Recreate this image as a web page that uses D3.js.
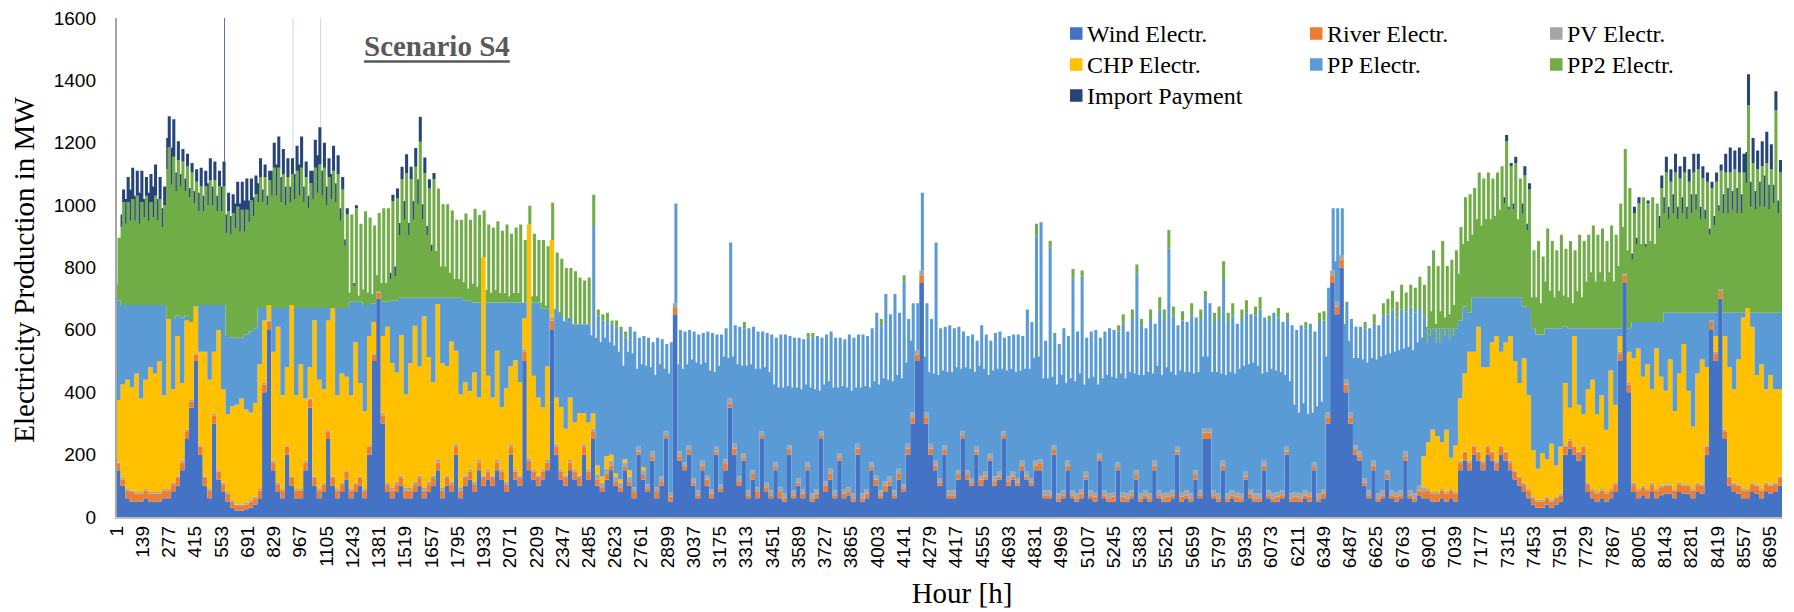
<!DOCTYPE html>
<html>
<head>
<meta charset="utf-8">
<script src="https://cdn.jsdelivr.net/npm/d3@7"></script>
<style>
  body { margin: 0; background: #fff; }
  svg { display: block; }
</style>
</head>
<body>
<svg id="chart" width="1794" height="612"></svg>
<script>
// Electricity production over one year, scenario S4 (MW).
// One value per day; PP and PP2 are split into a night block (0-8 h) and a day block (8-24 h).

const windMW = [
  150,100,60,50,50,50,60,50,50,50,
  60,60,80,100,150,250,350,500,200,100,
  60,300,120,80,50,30,20,20,25,30,
  40,60,400,600,150,80,60,200,100,60,
  60,150,350,100,60,80,250,100,60,80,
  120,60,80,100,60,200,500,700,300,80,
  60,80,100,60,60,80,100,60,80,100,
  150,60,100,80,200,60,100,120,80,150,
  100,120,100,150,120,80,200,120,100,500,
  150,120,100,120,150,600,200,120,100,150,
  120,100,200,120,250,100,80,120,150,100,
  80,150,100,60,200,120,80,180,60,100,
  250,50,650,180,150,200,100,60,150,100,
  60,200,80,150,350,200,100,180,60,120,
  60,250,80,60,150,60,50,200,60,100,
  60,150,50,60,250,80,120,60,180,60,
  70,50,200,50,60,150,100,60,80,100,
  60,120,80,200,300,500,750,300,200,150,
  100,200,60,60,120,250,120,100,200,100,
  120,180,100,120,250,100,120,100,150,120,
  100,150,150,60,60,200,50,60,150,60,
  50,60,120,60,50,180,60,50,50,150,
  50,50,60,120,50,60,50,150,60,50,
  50,60,200,50,60,50,120,60,250,250,
  60,50,150,50,60,50,50,120,60,50,
  50,150,60,50,50,60,200,50,50,50,
  60,50,150,50,60,300,750,650,800,400,
  300,200,180,100,60,150,50,60,120,60,
  50,60,180,60,50,70,60,60,50,50,
  60,50,60,50,150,180,150,200,180,150,
  200,180,150,200,180,150,120,100,80,60,
  40,30,30,40,30,40,50,200,220,200,
  180,200,80,60,50,60,50,60,80,500,
  750,400,80,60,70,60,80,60,70,75,
  75,60,80,75,75,60,80,75,200,600,
  500,700,250,100,80,75,60,60,80,75,
  60,80,75,80,100
];

const riverMW = [
  20,20,25,30,25,25,25,25,25,25,
  25,25,25,25,25,25,20,20,25,25,
  25,25,25,25,25,20,15,15,15,20,
  20,25,25,25,25,25,25,25,25,25,
  25,25,25,25,25,25,25,25,25,25,
  25,25,25,25,25,25,20,20,25,25,
  25,25,25,25,25,25,25,25,25,25,
  25,25,25,25,25,25,25,25,25,25,
  25,25,25,25,25,25,25,25,25,30,
  30,25,25,25,25,30,25,25,25,25,
  25,25,25,25,25,20,15,20,15,15,
  15,10,15,20,10,15,10,15,20,15,
  10,15,20,15,10,15,10,10,15,20,
  15,10,10,20,15,20,15,10,10,15,
  20,10,15,10,10,20,10,15,10,10,
  15,10,10,15,10,20,20,10,10,15,
  10,10,20,10,15,10,20,10,20,15,
  10,20,10,20,20,20,25,20,20,15,
  10,15,10,10,15,10,15,10,10,20,
  10,10,15,10,10,15,10,10,15,10,
  10,15,20,10,10,15,10,10,15,10,
  10,15,10,10,15,10,10,10,15,10,
  15,10,10,15,10,10,10,15,10,10,
  15,10,10,15,10,10,15,10,20,20,
  10,10,15,10,10,15,10,10,15,10,
  10,15,10,10,15,10,10,10,15,10,
  10,15,10,10,15,20,25,25,25,25,
  20,15,15,10,10,15,10,10,15,10,
  15,10,15,10,10,15,20,25,25,25,
  25,25,25,25,25,25,25,25,25,25,
  25,25,25,25,25,25,25,25,25,25,
  20,20,20,20,20,20,20,25,25,25,
  25,25,25,25,25,25,25,25,25,25,
  25,25,25,25,25,25,25,25,25,25,
  25,25,25,25,25,25,25,25,25,25,
  25,25,25,25,25,25,25,25,25,25,
  25,25,25,25,25
];

const pvMW = [
  5,5,5,5,5,5,5,5,5,5,
  5,5,5,5,5,5,5,5,5,5,
  5,5,5,5,5,5,5,5,5,5,
  5,5,5,5,5,5,5,5,5,5,
  5,5,5,5,5,5,5,5,5,5,
  5,5,5,5,5,5,5,5,5,5,
  8,8,8,8,8,8,8,8,8,8,
  8,8,8,8,8,8,8,8,8,8,
  8,8,8,8,8,8,8,8,8,8,
  8,8,8,8,8,8,8,8,8,8,
  8,8,8,8,8,15,15,15,15,15,
  15,15,15,15,15,15,15,15,15,15,
  15,15,15,15,15,15,15,15,15,15,
  15,15,15,15,15,15,15,15,15,15,
  15,15,15,15,15,15,15,15,15,15,
  15,15,15,15,15,15,15,15,15,15,
  15,15,15,15,15,15,15,15,15,15,
  15,15,15,15,15,15,15,15,15,15,
  15,15,15,15,15,15,15,15,15,15,
  15,15,15,15,15,15,15,15,15,15,
  15,15,15,15,15,15,15,15,15,15,
  15,15,15,15,15,15,15,15,15,15,
  15,15,15,15,15,15,15,15,15,15,
  15,15,15,15,15,15,15,15,15,15,
  15,15,15,15,15,15,15,15,15,15,
  15,15,15,15,15,15,15,15,15,15,
  15,15,15,15,15,15,15,15,15,15,
  15,15,15,15,15,15,15,15,15,15,
  15,15,15,15,15,15,15,5,5,5,
  5,5,5,5,5,5,5,5,5,5,
  5,5,5,5,5,5,5,5,5,5,
  5,5,5,5,5,5,5,5,5,5,
  5,5,5,5,5,5,5,5,5,5,
  5,5,5,5,5,5,5,5,5,5,
  5,5,5,5,5,5,5,5,5,5,
  5,5,5,5,5,5,5,5,5,5,
  5,5,5,5,5
];

const chpMW = [
  200,300,350,330,380,300,350,400,380,420,
  300,545,300,450,250,350,250,150,300,400,
  350,200,450,300,250,300,320,340,300,280,
  300,400,200,50,350,500,300,250,550,300,
  400,200,100,500,350,300,350,540,300,350,
  300,300,450,300,250,350,100,0,250,500,
  400,350,450,300,400,500,350,550,400,300,
  500,400,350,450,300,300,300,250,350,200,
  700,300,250,350,200,300,250,350,300,100,
  750,300,250,200,300,250,150,200,150,200,
  150,200,100,150,50,30,20,40,20,10,
  10,10,20,0,0,10,0,0,0,0,
  0,0,0,0,0,0,0,0,0,0,
  0,0,0,0,0,0,0,0,0,0,
  0,0,0,0,0,0,0,0,0,0,
  0,0,0,0,0,0,0,0,0,0,
  0,0,0,0,0,0,0,0,0,0,
  0,0,0,0,0,0,0,0,0,0,
  0,0,0,0,0,0,0,0,0,0,
  0,0,0,0,0,0,0,0,0,0,
  0,0,0,0,0,0,0,0,0,0,
  0,0,0,0,0,0,0,0,0,0,
  0,0,0,0,0,0,0,0,0,0,
  0,0,0,0,0,0,0,0,0,0,
  0,0,0,0,0,0,0,0,0,0,
  0,0,0,0,0,0,0,0,0,0,
  0,0,0,0,0,0,0,0,0,0,
  0,0,0,0,0,0,0,0,0,0,
  0,0,0,0,0,0,100,150,200,180,
  150,200,100,150,200,250,350,300,400,300,
  250,350,400,300,350,400,350,300,400,300,
  150,100,150,120,180,100,150,200,100,350,
  150,100,300,350,250,300,200,380,250,50,
  0,100,400,450,350,400,300,450,350,300,
  400,250,350,450,300,200,350,400,250,0,
  50,0,300,350,300,400,550,580,500,350,
  400,300,350,300,280
];

const ppDayMW = [
  320,255,240,265,220,300,240,200,220,180,
  290,0,225,65,210,15,0,0,150,150,
  240,150,80,270,250,220,215,195,240,260,
  240,180,40,0,140,60,280,190,0,280,
  180,290,190,40,230,260,40,0,280,210,
  220,300,130,260,340,100,60,0,110,80,
  200,230,120,310,210,90,220,60,190,270,
  20,210,220,140,170,310,260,290,225,305,
  0,235,305,155,335,275,205,185,255,50,
  0,235,305,315,185,0,285,295,345,255,
  315,285,285,315,600,480,500,430,420,470,
  480,390,460,500,350,420,470,350,480,440,
  280,480,320,390,420,370,470,500,410,460,
  500,360,480,420,500,380,480,400,520,460,
  500,320,480,500,400,490,510,350,490,450,
  480,400,500,490,300,470,440,490,370,480,
  490,500,350,510,490,430,520,530,600,520,
  630,500,650,400,350,150,250,350,400,700,
  480,380,530,520,460,320,430,460,340,480,
  440,360,460,450,300,450,440,460,400,520,
  500,720,760,480,780,360,480,520,400,680,
  520,680,430,510,520,370,510,530,520,420,
  540,520,550,630,540,520,560,440,580,560,
  780,560,390,550,540,570,490,550,420,400,
  540,560,580,550,560,540,560,510,560,570,
  590,460,540,580,560,540,410,540,520,540,
  520,540,420,550,540,400,200,300,150,250,
  300,380,400,480,520,440,540,560,500,580,
  560,580,450,590,580,570,450,365,325,345,
  365,325,415,375,250,215,125,175,95,225,
  225,145,125,175,145,125,205,275,165,280,
  390,430,380,420,370,440,380,180,255,25,
  245,275,195,165,275,215,325,135,245,25,
  0,75,115,85,175,135,215,85,175,250,
  150,315,195,100,250,365,195,150,175,25,
  75,0,75,175,245,150,15,0,45,200,
  165,245,200,245,245
];

const ppNightMW = [
  320,255,240,265,220,300,240,200,220,180,
  290,0,225,65,210,15,0,0,150,150,
  240,150,80,270,250,220,215,195,240,260,
  240,180,40,0,140,60,280,190,0,280,
  180,290,190,40,230,260,40,0,280,210,
  220,300,130,260,340,100,60,0,110,80,
  200,230,120,310,210,90,220,60,190,270,
  20,210,220,140,170,310,260,290,225,305,
  0,235,305,155,335,275,205,185,255,50,
  0,235,305,315,185,0,285,295,345,255,
  315,285,285,315,250,410,430,380,360,410,
  410,300,380,430,250,330,380,270,360,360,
  200,380,0,280,300,260,380,410,310,360,
  380,240,380,330,130,280,360,280,400,340,
  380,200,370,380,250,320,340,190,330,290,
  320,250,340,320,130,310,280,330,210,330,
  320,330,180,340,330,240,300,340,330,310,
  350,300,340,260,230,0,0,180,230,280,
  330,240,380,380,330,200,330,350,240,350,
  330,250,340,330,200,340,330,340,290,330,
  350,330,330,360,360,220,350,370,250,360,
  360,370,280,360,370,220,360,380,370,270,
  380,370,380,310,380,370,390,280,400,380,
  400,380,230,390,380,390,310,380,230,230,
  380,390,280,380,380,380,400,340,400,420,
  410,280,380,400,390,380,230,360,280,260,
  280,250,160,280,280,180,0,130,0,180,
  230,280,300,380,410,330,430,430,370,440,
  450,450,330,460,460,460,380,320,300,300,
  320,300,380,350,250,215,125,175,95,225,
  225,145,125,175,145,125,205,275,165,280,
  390,430,380,420,370,440,380,180,255,25,
  245,275,195,165,275,215,325,135,245,25,
  0,75,115,85,175,135,215,85,175,250,
  150,315,195,100,250,365,195,150,175,25,
  75,0,75,175,245,150,15,0,45,200,
  165,245,200,245,245
];

const pp2DayMW = [
  200,330,330,340,350,330,350,330,350,340,
  320,550,520,500,500,480,480,400,380,380,
  400,400,380,380,400,400,420,410,400,420,
  430,420,420,400,450,450,430,420,420,440,
  450,420,400,450,460,450,420,440,430,380,
  300,280,300,250,300,280,250,250,300,300,
  320,330,380,400,380,420,500,400,350,380,
  350,300,300,280,250,250,280,260,300,280,
  150,250,240,260,230,250,220,240,250,200,
  60,220,200,220,200,120,180,180,170,160,
  170,150,140,150,100,20,20,30,10,20,
  10,20,0,0,0,0,0,0,0,0,
  0,0,0,0,0,0,0,0,0,0,
  0,0,0,0,0,0,0,20,0,0,
  0,0,0,0,0,0,0,0,0,0,
  0,15,15,0,0,0,0,0,0,0,
  0,0,0,0,0,0,0,20,0,0,
  0,0,20,0,0,0,0,0,0,0,
  0,0,0,0,0,0,0,0,0,0,
  0,0,0,0,0,0,0,0,0,0,
  0,40,0,0,20,0,0,0,0,30,
  0,20,0,0,0,0,0,0,0,20,
  30,0,30,30,20,0,30,0,40,30,
  60,30,0,30,0,40,0,30,20,0,
  30,40,60,30,40,0,30,40,0,30,
  40,0,20,0,30,0,20,0,0,0,
  20,0,0,30,30,0,0,0,0,0,
  0,0,0,20,0,30,0,40,50,60,
  50,80,60,70,80,100,100,200,250,200,
  280,200,220,250,300,350,380,350,400,380,
  400,380,400,420,500,420,430,380,420,380,
  250,300,250,320,280,250,300,250,280,250,
  300,280,300,330,300,320,280,330,300,400,
  400,450,350,380,400,380,400,380,430,450,
  420,450,430,450,420,450,460,430,420,400,
  420,380,450,450,460,450,450,650,480,460,
  470,480,460,650,450
];

const pp2NightMW = [
  50,250,260,270,270,260,280,270,280,270,
  250,480,430,400,420,400,400,330,300,300,
  320,320,300,300,330,330,350,340,330,350,
  360,340,340,320,360,360,340,330,330,350,
  360,340,320,350,370,360,330,350,340,280,
  200,30,50,20,50,40,30,50,60,60,
  70,80,200,250,200,250,300,250,200,150,
  150,100,100,80,60,60,60,40,60,50,
  0,40,30,40,30,30,20,30,30,0,
  0,20,20,20,10,0,0,10,0,0,
  0,0,0,0,0,0,0,0,0,0,
  0,0,0,0,0,0,0,0,0,0,
  0,0,0,0,0,0,0,0,0,0,
  0,0,0,0,0,0,0,0,0,0,
  0,0,0,0,0,0,0,0,0,0,
  0,0,0,0,0,0,0,0,0,0,
  0,0,0,0,0,0,0,0,0,0,
  0,0,0,0,0,0,0,0,0,0,
  0,0,0,0,0,0,0,0,0,0,
  0,0,0,0,0,0,0,0,0,0,
  0,0,0,0,0,0,0,0,0,0,
  0,0,0,0,0,0,0,0,0,0,
  0,0,0,0,0,0,0,0,0,0,
  0,0,0,0,0,0,0,0,0,0,
  0,0,0,0,0,0,0,0,0,0,
  0,0,0,0,0,0,0,0,0,0,
  0,0,0,0,0,0,0,0,0,0,
  0,0,0,0,0,0,0,0,0,0,
  0,0,0,0,0,0,0,50,80,60,
  100,60,80,100,150,200,230,200,250,230,
  250,250,260,280,300,280,280,250,300,250,
  100,120,100,150,120,100,120,100,100,80,
  120,100,150,180,150,180,150,180,150,200,
  150,250,200,250,250,240,260,250,300,320,
  300,320,300,320,300,320,330,300,300,250,
  280,250,320,320,330,320,320,400,340,330,
  340,340,330,350,320
];

const importMW = [
  0,40,80,100,80,100,60,90,100,70,
  60,100,120,60,40,40,30,40,60,50,
  70,60,50,80,60,60,80,90,100,70,
  60,60,40,30,80,100,80,60,50,80,
  100,50,40,90,120,80,60,80,60,40,
  20,0,10,0,0,0,0,0,0,0,
  20,30,40,60,40,60,80,50,30,20,
  0,0,0,0,0,0,0,0,0,0,
  0,0,0,0,0,0,0,0,0,0,
  0,0,0,0,0,0,0,0,0,0,
  0,0,0,0,0,0,0,0,0,0,
  0,0,0,0,0,0,0,0,0,0,
  0,0,0,0,0,0,0,0,0,0,
  0,0,0,0,0,0,0,0,0,0,
  0,0,0,0,0,0,0,0,0,0,
  0,0,0,0,0,0,0,0,0,0,
  0,0,0,0,0,0,0,0,0,0,
  0,0,0,0,0,0,0,0,0,0,
  0,0,0,0,0,0,0,0,0,0,
  0,0,0,0,0,0,0,0,0,0,
  0,0,0,0,0,0,0,0,0,0,
  0,0,0,0,0,0,0,0,0,0,
  0,0,0,0,0,0,0,0,0,0,
  0,0,0,0,0,0,0,0,0,0,
  0,0,0,0,0,0,0,0,0,0,
  0,0,0,0,0,0,0,0,0,0,
  0,0,0,0,0,0,0,0,0,0,
  0,0,0,0,0,0,0,0,0,0,
  0,0,0,0,0,0,0,0,0,0,
  0,0,0,0,0,0,0,0,0,0,
  0,0,0,0,20,10,20,0,30,20,
  0,0,0,0,0,0,0,0,0,0,
  0,0,0,0,0,0,0,0,0,0,
  0,0,20,20,0,10,0,0,40,50,
  40,60,40,50,40,60,50,40,30,20,
  30,20,60,80,60,80,60,100,80,60,
  80,100,80,60,40
];

// Single-hour peaks that rise above the daily blocks.
const peakHours  = [569, 929, 1074];
const peakSeries = ["imp", "pp", "pp"];
const peakTopMW  = [1700, 1700, 1700];

const seriesKeys   = ["wind", "river", "pv", "chp", "pp", "pp2", "imp"];
const seriesNames  = ["Wind Electr.", "River Electr.", "PV Electr.", "CHP Electr.", "PP Electr.", "PP2 Electr.", "Import Payment"];
const seriesColors = ["#4472C4", "#ED7D31", "#A5A5A5", "#FFC000", "#5B9BD5", "#70AD47", "#264478"];

const yTicks = [0, 200, 400, 600, 800, 1000, 1200, 1400, 1600];
const hourLabels = [1,139,277,415,553,691,829,967,1105,1243,1381,1519,1657,1795,1933,2071,
  2209,2347,2485,2623,2761,2899,3037,3175,3313,3451,3589,3727,3865,4003,4141,4279,
  4417,4555,4693,4831,4969,5107,5245,5383,5521,5659,5797,5935,6073,6211,6349,6487,
  6625,6763,6901,7039,7177,7315,7453,7591,7729,7867,8005,8143,8281,8419,8557,8695];

// ---- layout ----
const plot = { left: 116, right: 1782, top: 18, bottom: 517 };
const totalHours = 8760;
const nightHours = 8;

const svg = d3.select("#chart");
const x = d3.scaleLinear().domain([0, totalHours]).range([plot.left, plot.right]);
const y = d3.scaleLinear().domain([0, 1600]).range([plot.bottom, plot.top]);

// Expand daily values into a night block and a day block.
const blocks = [];
for (let d = 0; d < 365; d++) {
  for (let half = 0; half < 2; half++) {
    blocks.push({
      hour: d * 24 + (half ? nightHours : 0),
      wind: windMW[d] || 0,
      river: riverMW[d] || 0,
      pv: pvMW[d] || 0,
      chp: chpMW[d] || 0,
      pp: (half ? ppDayMW[d] : ppNightMW[d]) || 0,
      pp2: (half ? pp2DayMW[d] : pp2NightMW[d]) || 0,
      imp: importMW[d] || 0
    });
  }
}
blocks.push(Object.assign({}, blocks[blocks.length - 1], { hour: totalHours }));

const stacked = d3.stack().keys(seriesKeys)(blocks);

const area = d3.area()
  .curve(d3.curveStepAfter)
  .x(d => x(d.data.hour))
  .y0(d => y(d[0]))
  .y1(d => y(d[1]));

svg.append("defs").append("clipPath").attr("id", "plotClip")
  .append("rect")
  .attr("x", plot.left).attr("y", plot.top)
  .attr("width", plot.right - plot.left).attr("height", plot.bottom - plot.top);

const plotG = svg.append("g").attr("clip-path", "url(#plotClip)");

plotG.selectAll("path")
  .data(stacked)
  .join("path")
  .attr("fill", (d, i) => seriesColors[i])
  .attr("d", area);

// single-hour peaks, drawn on top of the block containing their hour
const blockTotal = b => seriesKeys.reduce((s, k) => s + b[k], 0);
peakHours.forEach((h, i) => {
  const b = blocks[d3.bisector(d => d.hour).right(blocks, h - 1) - 1];
  const base = blockTotal(b);
  plotG.append("rect")
    .attr("x", x(h - 1))
    .attr("width", Math.max(1, x(h) - x(h - 1)))
    .attr("y", y(peakTopMW[i]))
    .attr("height", y(base) - y(peakTopMW[i]))
    .attr("fill", seriesColors[seriesKeys.indexOf(peakSeries[i])])
    .attr("opacity", peakSeries[i] === "imp" ? 0.75 : 0.35);
});

// ---- axes ----
svg.append("line")
  .attr("x1", plot.left).attr("x2", plot.left)
  .attr("y1", plot.top).attr("y2", plot.bottom + 1)
  .attr("stroke", "#A6A6A6").attr("stroke-width", 2);
svg.append("line")
  .attr("x1", plot.left - 1).attr("x2", plot.right)
  .attr("y1", plot.bottom + 1).attr("y2", plot.bottom + 1)
  .attr("stroke", "#BFBFBF").attr("stroke-width", 2);

svg.append("g")
  .selectAll("text")
  .data(yTicks)
  .join("text")
  .attr("x", 96)
  .attr("y", d => y(d))
  .attr("text-anchor", "end")
  .attr("dominant-baseline", "central")
  .attr("font-family", "'Liberation Sans', Arial, sans-serif")
  .attr("font-size", 19)
  .attr("fill", "#000")
  .text(d => d);

svg.append("g")
  .selectAll("text")
  .data(hourLabels)
  .join("text")
  .attr("transform", d => `translate(${x(d - 0.5)},526) rotate(-90)`)
  .attr("text-anchor", "end")
  .attr("dominant-baseline", "central")
  .attr("font-family", "'Liberation Sans', Arial, sans-serif")
  .attr("font-size", 19)
  .attr("fill", "#000")
  .text(d => d);

// ---- axis titles ----
svg.append("text")
  .attr("transform", "translate(34,270) rotate(-90)")
  .attr("text-anchor", "middle")
  .attr("font-family", "'Liberation Serif', 'Times New Roman', serif")
  .attr("font-size", 29)
  .attr("fill", "#000")
  .text("Electricity Production in MW");

svg.append("text")
  .attr("x", 962).attr("y", 603)
  .attr("text-anchor", "middle")
  .attr("font-family", "'Liberation Serif', 'Times New Roman', serif")
  .attr("font-size", 29)
  .attr("fill", "#000")
  .text("Hour [h]");

// ---- scenario label ----
const scen = svg.append("text")
  .attr("x", 364).attr("y", 56)
  .attr("font-family", "'Liberation Serif', 'Times New Roman', serif")
  .attr("font-size", 29)
  .attr("font-weight", "bold")
  .attr("fill", "#595959")
  .text("Scenario S4");
const scenW = scen.node().getComputedTextLength();
svg.append("line")
  .attr("x1", 364).attr("x2", 364 + scenW)
  .attr("y1", 61.5).attr("y2", 61.5)
  .attr("stroke", "#595959").attr("stroke-width", 2.5);

// ---- legend ----
const legendCols = [1070, 1310, 1550];
const legendRows = [33.5, 64.5, 95.5];
const legend = svg.append("g");
seriesNames.forEach((name, i) => {
  const cx = legendCols[i % 3];
  const cy = legendRows[Math.floor(i / 3)];
  legend.append("rect")
    .attr("x", cx).attr("y", cy - 6.25)
    .attr("width", 12.5).attr("height", 12.5)
    .attr("fill", seriesColors[i]);
  legend.append("text")
    .attr("x", cx + 17).attr("y", cy + 8)
    .attr("font-family", "'Liberation Serif', 'Times New Roman', serif")
    .attr("font-size", 24)
    .attr("fill", "#000")
    .text(name);
});
</script>
</body>
</html>
